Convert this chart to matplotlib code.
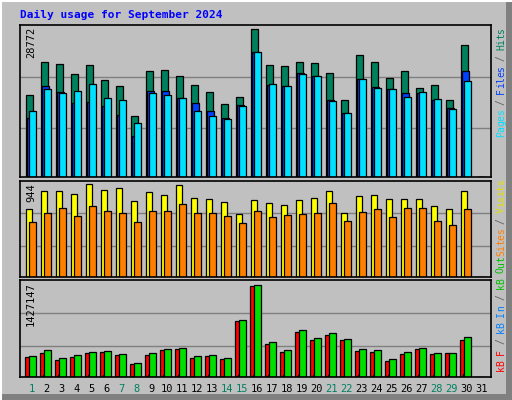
import matplotlib
matplotlib.use("Agg")
import matplotlib.pyplot as plt
import numpy as np

days = list(range(1, 32))
weekend = [1, 7, 8, 14, 15, 21, 22, 28, 29]
hits = [15941,22356,21967,20023,21773,18857,17690,11858,20606,20801,19634,17885,16524,14191,15552,28772,21773,21578,22356,22162,20218,14969,23717,22356,19246,20606,17302,17885,14969,25661,0]
files = [11470,17690,16524,14386,14580,13802,12053,7970,16718,16718,15358,14386,12830,11470,13997,24300,17885,17690,20218,19634,14969,12442,19051,17496,17107,16330,16330,14969,13414,20606,0]
pages = [12830,17107,16330,16718,18079,15358,14969,10498,16330,15941,15358,12830,11858,11275,13802,24300,18079,17690,20023,19634,14774,12442,19051,17302,17107,15552,16524,15163,13219,18662,0]
visits = [688,872,872,842,944,883,903,770,862,832,934,801,791,760,637,780,750,729,780,801,872,648,821,832,791,791,791,719,688,872,0]
sites = [556,648,699,617,719,668,648,556,668,668,740,648,648,617,545,668,607,627,637,648,750,566,658,688,607,699,699,566,525,688,0]
kb_f = [306210,368490,259500,306210,368490,384060,337350,197220,337350,415200,430770,290640,321780,275070,866730,1411680,508620,384060,695460,570900,648750,570900,399630,384060,243930,352920,430770,352920,368490,570900,0]
kb_in = [18000,22000,20000,18000,19000,20000,18000,15000,21000,21000,22000,18000,19000,17000,20000,22000,24000,22000,23000,20000,19000,18000,34000,23000,21000,18000,22000,19000,20000,35000,0]
kb_out = [321780,415200,290640,337350,384060,399630,352920,212790,368490,430770,446340,321780,337350,290640,882300,1427147,539760,415200,726600,602040,679890,586470,430770,415200,275070,384060,446340,368490,368490,617610,0]

W, H = 512, 400
fig = plt.figure(figsize=(5.12, 4.0), dpi=100)
fig.patch.set_facecolor('#C0C0C0')
fig.add_artist(plt.Line2D([1-3/W, 1-3/W], [0, 1], color='#808080', lw=5, transform=fig.transFigure))
fig.add_artist(plt.Line2D([0, 1], [3/H, 3/H], color='#808080', lw=5, transform=fig.transFigure))
fig.add_artist(plt.Line2D([1/W, 1/W], [0, 1], color='white', lw=1.5, transform=fig.transFigure))
fig.add_artist(plt.Line2D([0, 1], [1-1/H, 1-1/H], color='white', lw=1.5, transform=fig.transFigure))

L, R = 20, 491
xmin = 1 - 5.7/15
xmax = xmin + (R - L)/15
px = 1/15

def mkax(top, bot):
    ax = fig.add_axes([L/W, 1-bot/H, (R-L)/W, (bot-top)/H])
    ax.set_facecolor('#C0C0C0')
    ax.set_xlim(xmin, xmax)
    ax.set_xticks([]); ax.set_yticks([])
    for s in ax.spines.values():
        s.set_color('black'); s.set_linewidth(1.2)
    for f in (0.32, 0.66):
        ax.plot([0, 1], [f, f], color='#808080', lw=1, transform=ax.transAxes, zorder=0)
    return ax

x = np.array(days, dtype=float)
ec = dict(edgecolor='black', linewidth=0.9, align='edge', zorder=2)

ax1 = mkax(25, 177)
ax1.set_ylim(0, 28772*152/148)
ax1.bar(x, hits, width=7*px, color='#00805C', **ec)
ax1.bar(x + 1.6*px, files, width=7*px, color='#0040FF', **ec)
ax1.bar(x + 3.6*px, pages, width=7*px, color='#00E0FF', **ec)

ax2 = mkax(180.7, 276.7)
ax2.set_ylim(0, 944*96/92.3)
ax2.bar(x, visits, width=6.6*px, color='#FFFF00', **ec)
ax2.bar(x + 3.6*px, sites, width=7*px, color='#FF8000', **ec)

ax3 = mkax(280, 376.7)
ax3.set_ylim(0, 1427147*96.7/91.3)
ax3.bar(x - 0.4*px, kb_f, width=5*px, color='#FF0000', **ec)
ax3.bar(x + 2.0*px, kb_in, width=2*px, color='#0080FF', **ec)
ax3.bar(x + 3.3*px, kb_out, width=7.4*px, color='#00E000', **ec)

mono = 'DejaVu Sans Mono'
fig.text(20/W, 1-15/H, 'Daily usage for September 2024', color='#0000FF',
         fontsize=8, fontweight='bold', family=mono, va='center', ha='left')

for val, top in ((28772, 27), (944, 183), (1427147, 282)):
    fig.text(31/W, 1-top/H, str(val), rotation=90, fontsize=7.5, family=mono,
             ha='center', va='top', color='black')

for d in days:
    fig.text((25.7 + 15*(d-1) + 6)/W, 1-389/H, str(d), fontsize=7.5, family=mono,
             ha='center', va='center', color='#008060' if d in weekend else 'black')

def vlabel(parts, ybot, xpx=501, step=5.45):
    y = ybot
    for txt, col in parts:
        for ch in txt:
            if ch != ' ':
                fig.text(xpx/W, 1-(y - step/2)/H, ch, rotation=90, fontsize=7, family=mono,
                         ha='center', va='center', color=col)
            y -= step

g = '#606060'
vlabel([('Pages', '#00E0FF'), (' / ', g), ('Files', '#0040FF'), (' / ', g), ('Hits', '#00805C')], 137)
vlabel([('Sites', '#FF8000'), (' / ', g), ('Visits', '#E0E000')], 256)
vlabel([('kB F', '#FF0000'), (' / ', g), ('kB In', '#0080FF'), (' / ', g), ('kB Out', '#00C000')], 371)

fig.savefig('out.png', dpi=100, facecolor=fig.get_facecolor())
